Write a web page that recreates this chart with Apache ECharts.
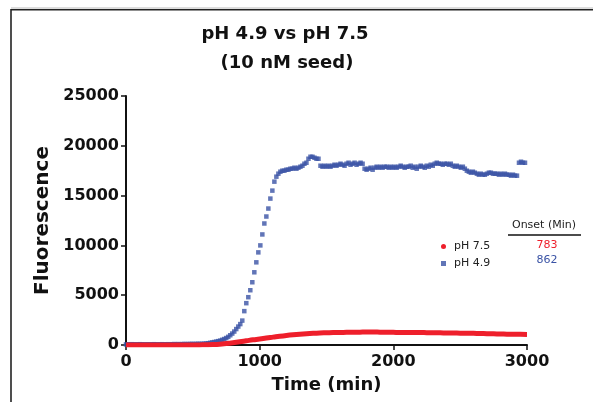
<!DOCTYPE html>
<html>
<head>
<meta charset="utf-8">
<script src="https://cdn.jsdelivr.net/npm/echarts@6/dist/echarts.min.js"></script>
<style>
  html, body { margin: 0; padding: 0; background: #fff; overflow: hidden; }
  #chart { width: 593px; height: 402px; }
</style>
</head>
<body>
<div id="chart"></div>
<script>
// pH 4.9 readings, one every 15 min starting at 0
const blueStep = 15;
const bluePH49 = [
  60, 70, 60, 80, 70, 60, 70, 80, 70, 60,
  60, 70, 60, 70, 80, 70, 60, 70, 80, 70,
  70, 80, 70, 80, 90, 80, 90, 80, 90, 100,
  90, 100, 100, 110, 100, 110, 120, 110, 120, 130,
  150, 180, 220, 260, 300, 340, 390, 440, 520, 600,
  700, 820, 980, 1150, 1350, 1600, 1850, 2100, 2450, 3400,
  4200, 4800, 5500, 6300, 7300, 8300, 9300, 10000, 11100, 12200,
  12900, 13700, 14700, 15500, 16400, 16900, 17200, 17400, 17500, 17500,
  17600, 17600, 17700, 17700, 17800, 17700, 17800, 17900, 18000, 18200,
  18300, 18700, 18900, 18900, 18800, 18700, 18700, 18000, 17900, 18000,
  17900, 18000, 17900, 18000, 18100, 18000, 18100, 18200, 18100, 18000,
  18200, 18300, 18100, 18200, 18300, 18100, 18200, 18300, 18200, 17700,
  17600, 17700, 17800, 17600, 17800, 17900, 17800, 17900, 17800, 17900,
  17900, 17800, 17900, 17800, 17900, 17800, 17900, 18000, 17900, 17800,
  17900, 17900, 18000, 17800, 17900, 17700, 17900, 18000, 17900, 17800,
  18000, 17900, 18100, 18000, 18200, 18300, 18200, 18200, 18100, 18200,
  18200, 18100, 18200, 18000, 17900, 18000, 17900, 17800, 17900, 17700,
  17500, 17400, 17300, 17400, 17300, 17200, 17100, 17200, 17100, 17100,
  17200, 17300, 17300, 17200, 17200, 17200, 17100, 17200, 17100, 17200,
  17100, 17100, 17000, 17100, 17000, 17000, 18300, 18400, 18300, 18300
];

// pH 7.5 readings, one every 50 min starting at 0
const redStep = 50;
const redPH75 = [
  0, 0, 0, 0, 0, 0, 0, 0, 0, 0,
  0, 10, 20, 40, 80, 150, 230, 320, 420, 520,
  600, 700, 790, 880, 960, 1030, 1090, 1140, 1180, 1210,
  1230, 1250, 1260, 1270, 1280, 1290, 1300, 1300, 1290, 1280,
  1270, 1260, 1260, 1250, 1250, 1240, 1230, 1220, 1210, 1200,
  1190, 1180, 1170, 1150, 1140, 1120, 1110, 1090, 1080, 1070,
  1060
];

const seriesNames = ['pH 7.5', 'pH 4.9'];
const onsetValues = ['783', '862'];
const xTicks = [0, 3000, 1000];     // min, max, interval
const yTicks = [0, 25000, 5000];

const RED = '#ee1f2b';
const BLUE = '#3a53a5';
const FONT = 'DejaVu Sans';

const blueData = bluePH49.map((v, i) => [i * blueStep, v]);
const redData = redPH75.map((v, i) => [i * redStep, v]);

const chart = echarts.init(document.getElementById('chart'), null, { renderer: 'canvas' });

const option = {
  backgroundColor: '#fff',
  animation: false,
  grid: { left: 126, right: 66, top: 96, bottom: 57 },
  legend: {
    orient: 'vertical',
    left: 436,
    top: 236,
    itemWidth: 5,
    itemHeight: 5,
    itemGap: 6,
    data: [
      { name: seriesNames[0], icon: 'circle' },
      { name: seriesNames[1], icon: 'rect' }
    ],
    textStyle: { fontFamily: FONT, fontSize: 11, color: '#222', padding: [0, 0, 0, 3] }
  },
  xAxis: {
    type: 'value',
    min: xTicks[0],
    max: xTicks[1],
    interval: xTicks[2],
    name: 'Time (min)',
    nameLocation: 'middle',
    nameGap: 31,
    nameTextStyle: { fontFamily: FONT, fontSize: 18, fontWeight: 'bold', color: '#111' },
    axisLine: { lineStyle: { color: '#111', width: 2 } },
    axisTick: { length: 5, lineStyle: { color: '#111', width: 1.5 } },
    axisLabel: { margin: 9, fontFamily: FONT, fontSize: 16, fontWeight: 'bold', color: '#111', formatter: v => String(v) },
    splitLine: { show: false }
  },
  yAxis: {
    type: 'value',
    min: yTicks[0],
    max: yTicks[1],
    interval: yTicks[2],
    name: 'Fluorescence',
    nameLocation: 'middle',
    nameGap: 61,
    nameTextStyle: { fontFamily: FONT, fontSize: 20, fontWeight: 'bold', color: '#111' },
    axisLine: { show: true, lineStyle: { color: '#111', width: 2 } },
    axisTick: { show: true, length: 5, lineStyle: { color: '#111', width: 1.5 } },
    axisLabel: { margin: 7, fontFamily: FONT, fontSize: 16, fontWeight: 'bold', color: '#111', formatter: v => String(v) },
    splitLine: { show: false }
  },
  series: [
    {
      name: seriesNames[1],
      type: 'scatter',
      symbol: 'rect',
      symbolSize: 4.5,
      itemStyle: { color: BLUE },
      data: blueData,
      z: 2
    },
    {
      name: seriesNames[0],
      type: 'line',
      smooth: true,
      showSymbol: false,
      symbol: 'circle',
      itemStyle: { color: RED },
      lineStyle: { color: RED, width: 5 },
      data: redData,
      z: 3
    }
  ],
  graphic: [
    // page frame (top and left only)
    { type: 'line', shape: { x1: 11, y1: 8, x2: 593, y2: 8 }, style: { stroke: '#bbb', lineWidth: 1 } },
    { type: 'line', shape: { x1: 11, y1: 9.8, x2: 593, y2: 9.8 }, style: { stroke: '#222', lineWidth: 1.6 } },
    { type: 'line', shape: { x1: 11, y1: 9, x2: 11, y2: 402 }, style: { stroke: '#222', lineWidth: 1.6 } },
    // title
    { type: 'text', x: 285, y: 34, style: { text: 'pH 4.9 vs pH 7.5', align: 'center', verticalAlign: 'middle', font: 'bold 18px "DejaVu Sans"', fill: '#111' } },
    { type: 'text', x: 287, y: 63, style: { text: '(10 nM seed)', align: 'center', verticalAlign: 'middle', font: 'bold 18px "DejaVu Sans"', fill: '#111' } },
    // onset table
    { type: 'text', x: 544, y: 225, style: { text: 'Onset (Min)', align: 'center', verticalAlign: 'middle', font: '11px "DejaVu Sans"', fill: '#222' } },
    { type: 'line', shape: { x1: 508, y1: 235, x2: 581, y2: 235 }, style: { stroke: '#111', lineWidth: 1.5 } },
    { type: 'text', x: 547, y: 245, style: { text: onsetValues[0], align: 'center', verticalAlign: 'middle', font: '11px "DejaVu Sans"', fill: RED } },
    { type: 'text', x: 547, y: 260, style: { text: onsetValues[1], align: 'center', verticalAlign: 'middle', font: '11px "DejaVu Sans"', fill: BLUE } }
  ]
};

chart.setOption(option);
</script>
</body>
</html>
